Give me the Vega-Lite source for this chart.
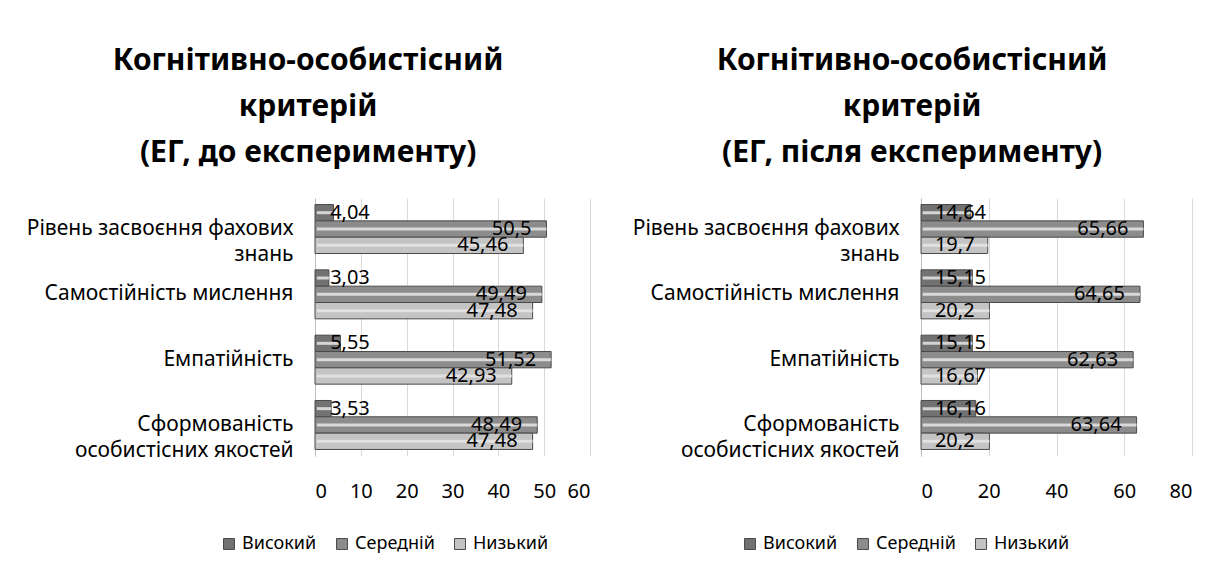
{
  "$schema": "https://vega.github.io/schema/vega-lite/v6.json",
  "background": "white",
  "padding": {"left": 26, "top": 46, "right": 10, "bottom": 5},
  "spacing": 42,
  "config": {
    "font": "Noto Sans",
    "locale": {"number": {"decimal": ",", "thousands": " ", "grouping": [3], "currency": ["", ""]}},
    "view": {"stroke": null},
    "axis": {"labelFont": "Noto Sans", "labelFontSize": 21, "labelColor": "#000000"},
    "legend": {"labelFont": "Noto Sans", "labelFontSize": 17, "labelColor": "#000000"}
  },
  "data": {"values": [
    {"panel": "before", "criterion": "Рівень засвоєння фахових|знань", "level": "Високий", "value": 4.04},
    {"panel": "before", "criterion": "Рівень засвоєння фахових|знань", "level": "Середній", "value": 50.5},
    {"panel": "before", "criterion": "Рівень засвоєння фахових|знань", "level": "Низький", "value": 45.46},
    {"panel": "before", "criterion": "Самостійність мислення", "level": "Високий", "value": 3.03},
    {"panel": "before", "criterion": "Самостійність мислення", "level": "Середній", "value": 49.49},
    {"panel": "before", "criterion": "Самостійність мислення", "level": "Низький", "value": 47.48},
    {"panel": "before", "criterion": "Емпатійність", "level": "Високий", "value": 5.55},
    {"panel": "before", "criterion": "Емпатійність", "level": "Середній", "value": 51.52},
    {"panel": "before", "criterion": "Емпатійність", "level": "Низький", "value": 42.93},
    {"panel": "before", "criterion": "Сформованість|особистісних якостей", "level": "Високий", "value": 3.53},
    {"panel": "before", "criterion": "Сформованість|особистісних якостей", "level": "Середній", "value": 48.49},
    {"panel": "before", "criterion": "Сформованість|особистісних якостей", "level": "Низький", "value": 47.48},
    {"panel": "after", "criterion": "Рівень засвоєння фахових|знань", "level": "Високий", "value": 14.64},
    {"panel": "after", "criterion": "Рівень засвоєння фахових|знань", "level": "Середній", "value": 65.66},
    {"panel": "after", "criterion": "Рівень засвоєння фахових|знань", "level": "Низький", "value": 19.7},
    {"panel": "after", "criterion": "Самостійність мислення", "level": "Високий", "value": 15.15},
    {"panel": "after", "criterion": "Самостійність мислення", "level": "Середній", "value": 64.65},
    {"panel": "after", "criterion": "Самостійність мислення", "level": "Низький", "value": 20.2},
    {"panel": "after", "criterion": "Емпатійність", "level": "Високий", "value": 15.15},
    {"panel": "after", "criterion": "Емпатійність", "level": "Середній", "value": 62.63},
    {"panel": "after", "criterion": "Емпатійність", "level": "Низький", "value": 16.67},
    {"panel": "after", "criterion": "Сформованість|особистісних якостей", "level": "Високий", "value": 16.16},
    {"panel": "after", "criterion": "Сформованість|особистісних якостей", "level": "Середній", "value": 63.64},
    {"panel": "after", "criterion": "Сформованість|особистісних якостей", "level": "Низький", "value": 20.2}
  ]},
  "resolve": {"scale": {"color": "independent", "x": "independent", "y": "independent"}},
  "hconcat": [
    {
      "width": 275, "height": 258,
      "title": {"text": ["Когнітивно-особистісний", "критерій", "(ЕГ, до експерименту)"], "anchor": "middle", "frame": "bounds", "font": "Noto Sans", "fontSize": 30, "fontWeight": "bold", "lineHeight": 46, "offset": 30, "color": "#000000"},
      "transform": [{"filter": "datum.panel == 'before'"}],
      "encoding": {
        "y": {"field": "criterion", "type": "nominal", "sort": ["Рівень засвоєння фахових|знань", "Самостійність мислення", "Емпатійність", "Сформованість|особистісних якостей"],
              "scale": {"paddingInner": 0.25, "paddingOuter": 0.1},
              "axis": {"title": null, "labelExpr": "split(datum.label, '|')", "labelLineHeight": 26, "ticks": false, "domain": true, "domainColor": "#bfbfbf", "labelPadding": 22, "labelLimit": 400}},
        "yOffset": {"field": "level", "type": "nominal", "sort": ["Високий", "Середній", "Низький"], "scale": {"paddingInner": 0, "paddingOuter": 0}}
      },
      "layer": [
        {
          "mark": {"type": "bar", "stroke": "#4a4a4a", "strokeWidth": 1},
          "encoding": {
            "x": {"field": "value", "type": "quantitative", "scale": {"domain": [0, 60]},
                  "axis": {"title": null, "values": [0, 10, 20, 30, 40, 50, 60], "grid": true, "gridColor": "#d9d9d9", "domain": false, "ticks": false, "labelPadding": 25, "labelFontSize": 20}},
            "color": {"field": "level", "type": "nominal", "sort": ["Високий", "Середній", "Низький"],
                      "scale": {"domain": ["Високий", "Середній", "Низький"], "range": ["#727272", "#8c8c8c", "#c4c4c4"]},
                      "legend": {"title": null, "orient": "none", "legendX": -95, "legendY": 337, "direction": "horizontal", "symbolType": "square", "symbolSize": 120, "symbolStrokeColor": "#4a4a4a", "symbolStrokeWidth": 1, "columnPadding": 16, "labelOffset": 4, "labelFontSize": 18}}
          }
        },
        {
          "mark": {"type": "rule", "color": "#e6e6e6", "strokeWidth": 3, "opacity": 0.85},
          "encoding": {"x": {"field": "value", "type": "quantitative"}, "x2": {"datum": 0.4}}
        },
        {
          "transform": [{"filter": "datum.value >= 10"}],
          "mark": {"type": "text", "align": "right", "dx": -15, "fontSize": 20, "color": "#000000", "baseline": "middle"},
          "encoding": {"x": {"field": "value", "type": "quantitative"}, "text": {"field": "value", "type": "quantitative", "format": ".2~f"}}
        },
        {
          "transform": [{"filter": "datum.value < 10"}],
          "mark": {"type": "text", "align": "left", "fontSize": 20, "color": "#000000", "baseline": "middle"},
          "encoding": {"x": {"datum": 3.3, "type": "quantitative"}, "text": {"field": "value", "type": "quantitative", "format": ".2~f"}}
        }
      ]
    },
    {
      "width": 271, "height": 258,
      "title": {"text": ["Когнітивно-особистісний", "критерій", "(ЕГ, після експерименту)"], "anchor": "middle", "frame": "bounds", "font": "Noto Sans", "fontSize": 30, "fontWeight": "bold", "lineHeight": 46, "offset": 30, "color": "#000000"},
      "transform": [{"filter": "datum.panel == 'after'"}],
      "encoding": {
        "y": {"field": "criterion", "type": "nominal", "sort": ["Рівень засвоєння фахових|знань", "Самостійність мислення", "Емпатійність", "Сформованість|особистісних якостей"],
              "scale": {"paddingInner": 0.25, "paddingOuter": 0.1},
              "axis": {"title": null, "labelExpr": "split(datum.label, '|')", "labelLineHeight": 26, "ticks": false, "domain": true, "domainColor": "#bfbfbf", "labelPadding": 22, "labelLimit": 400}},
        "yOffset": {"field": "level", "type": "nominal", "sort": ["Високий", "Середній", "Низький"], "scale": {"paddingInner": 0, "paddingOuter": 0}}
      },
      "layer": [
        {
          "mark": {"type": "bar", "stroke": "#4a4a4a", "strokeWidth": 1},
          "encoding": {
            "x": {"field": "value", "type": "quantitative", "scale": {"domain": [0, 80]},
                  "axis": {"title": null, "values": [0, 20, 40, 60, 80], "grid": true, "gridColor": "#d9d9d9", "domain": false, "ticks": false, "labelPadding": 25, "labelFontSize": 20}},
            "color": {"field": "level", "type": "nominal", "sort": ["Високий", "Середній", "Низький"],
                      "scale": {"domain": ["Високий", "Середній", "Низький"], "range": ["#727272", "#8c8c8c", "#c4c4c4"]},
                      "legend": {"title": null, "orient": "none", "legendX": -180, "legendY": 337, "direction": "horizontal", "symbolType": "square", "symbolSize": 120, "symbolStrokeColor": "#4a4a4a", "symbolStrokeWidth": 1, "columnPadding": 16, "labelOffset": 4, "labelFontSize": 18}}
          }
        },
        {
          "mark": {"type": "rule", "color": "#e6e6e6", "strokeWidth": 3, "opacity": 0.85},
          "encoding": {"x": {"field": "value", "type": "quantitative"}, "x2": {"datum": 0.5}}
        },
        {
          "transform": [{"filter": "datum.value >= 25"}],
          "mark": {"type": "text", "align": "right", "dx": -15, "fontSize": 20, "color": "#000000", "baseline": "middle"},
          "encoding": {"x": {"field": "value", "type": "quantitative"}, "text": {"field": "value", "type": "quantitative", "format": ".2~f"}}
        },
        {
          "transform": [{"filter": "datum.value < 25"}],
          "mark": {"type": "text", "align": "left", "fontSize": 20, "color": "#000000", "baseline": "middle"},
          "encoding": {"x": {"datum": 4.1, "type": "quantitative"}, "text": {"field": "value", "type": "quantitative", "format": ".2~f"}}
        }
      ]
    }
  ]
}
